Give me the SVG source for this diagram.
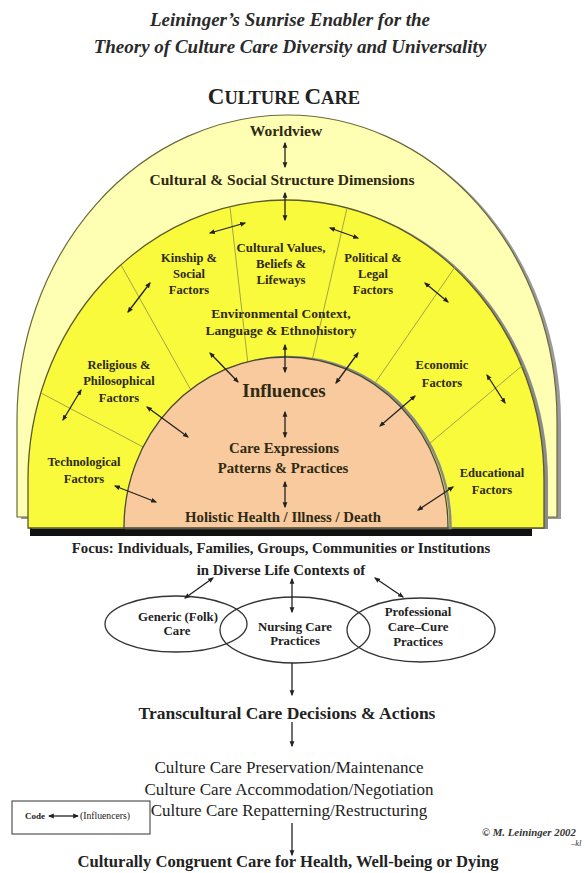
<svg xmlns="http://www.w3.org/2000/svg" width="585" height="873" viewBox="0 0 585 873" font-family="'Liberation Serif', 'Times New Roman', Tinos, 'DejaVu Serif', serif">
<style>
  svg text { font-family: 'Liberation Serif', 'Times New Roman', Tinos, 'DejaVu Serif', serif; }
  .ttl { font-weight: bold; font-style: italic; font-size: 19px; fill: #2a2a2a; text-anchor: middle; }
  .cc { font-weight: bold; fill: #222; text-anchor: middle; }
  .arch { font-weight: bold; fill: #2e2a14; text-anchor: middle; }
  .f15 { font-size: 15.5px; }
  .fac { font-size: 12.5px; }
  .env { font-size: 13.5px; }
  .mid { font-size: 14.8px; }
  .bl { font-weight: bold; fill: #222; text-anchor: middle; }
  .rg { fill: #222; text-anchor: middle; font-size: 17px; }
  .ell { fill: none; stroke: #333; stroke-width: 1.3; }
  .div { stroke: #a3a348; stroke-width: 1; fill: none; }
  .arr { stroke: #222; stroke-width: 1.3; fill: none; marker-start: url(#ah); marker-end: url(#ah); }
  .one { stroke: #222; stroke-width: 1.3; fill: none; marker-end: url(#ah); }
</style>
<defs>
  <marker id="ah" viewBox="0 0 10 10" refX="8" refY="5" markerWidth="6" markerHeight="6" markerUnits="userSpaceOnUse" orient="auto-start-reverse">
    <path d="M0,1 L10,5 L0,9 z" fill="#222"/>
  </marker>
</defs>
<rect width="585" height="873" fill="#ffffff"/>

<g id="title">
  <text class="ttl" x="290" y="26">Leininger’s Sunrise Enabler for the</text>
  <text class="ttl" x="290" y="53">Theory of Culture Care Diversity and Universality</text>
</g>
<g id="culture-care-heading">
  <text class="cc" x="284" y="104"><tspan font-size="23">C</tspan><tspan font-size="18.5">ULTURE </tspan><tspan font-size="23">C</tspan><tspan font-size="18.5">ARE</tspan></text>
</g>

<g id="arches">
  <path d="M17,517 L17,420 A270,305 0 0 1 557,420 L557,517 Z" fill="#9a9a9a" transform="translate(4,2)"/>
  <path d="M17,517 L17,420 A270,305 0 0 1 557,420 L557,517 Z" fill="#FFFFB3" stroke="#6a6a3a" stroke-width="1.2"/>
  <rect x="30" y="528" width="502" height="8" fill="#111"/>
  <path d="M28,528 L28,480 A258,280 0 0 1 544,480 L544,528 Z" fill="#8a8a8a" transform="translate(4,1)"/>
  <path d="M28,528 L28,480 A258,280 0 0 1 544,480 L544,528 Z" fill="#FAFA3C" stroke="#5a5a2a" stroke-width="1.3"/>
  <g id="dividers">
    <line class="div" x1="41" y1="393" x2="145" y2="448"/>
    <line class="div" x1="121" y1="265" x2="192" y2="392"/>
    <line class="div" x1="230" y1="207" x2="248" y2="364"/>
    <line class="div" x1="347" y1="208" x2="312" y2="361"/>
    <line class="div" x1="455" y1="267" x2="373" y2="386"/>
    <line class="div" x1="523" y1="365" x2="423" y2="449"/>
  </g>
  <path d="M124,528 L124,527 A162,170 0 0 1 448,527 L448,528 Z" fill="none" stroke="#8a8a8a" stroke-width="2.5" transform="translate(2.5,0)"/>
  <path d="M124,528 L124,527 A162,170 0 0 1 448,527 L448,528 Z" fill="#F9CA9E" stroke="#4a4a30" stroke-width="1.3"/>
</g>

<g id="worldview"><text class="arch f15" x="286" y="136">Worldview</text></g>
<g id="cultural-social"><text class="arch f15" x="282" y="185">Cultural &amp; Social Structure Dimensions</text></g>
<g id="cultural-values">
  <text class="arch" font-size="12.8" x="281" y="252">Cultural Values,</text>
  <text class="arch" font-size="12.8" x="281" y="268">Beliefs &amp;</text>
  <text class="arch" font-size="12.8" x="281" y="284">Lifeways</text>
</g>
<g id="kinship">
  <text class="arch fac" x="189" y="262">Kinship &amp;</text>
  <text class="arch fac" x="189" y="278">Social</text>
  <text class="arch fac" x="189" y="294">Factors</text>
</g>
<g id="political">
  <text class="arch fac" x="373" y="262">Political &amp;</text>
  <text class="arch fac" x="373" y="278">Legal</text>
  <text class="arch fac" x="373" y="294">Factors</text>
</g>
<g id="environmental">
  <text class="arch env" x="281" y="318">Environmental Context,</text>
  <text class="arch env" x="281" y="335">Language &amp; Ethnohistory</text>
</g>
<g id="religious">
  <text class="arch fac" x="119" y="369">Religious &amp;</text>
  <text class="arch fac" x="119" y="385">Philosophical</text>
  <text class="arch fac" x="119" y="402">Factors</text>
</g>
<g id="economic">
  <text class="arch fac" x="442" y="369">Economic</text>
  <text class="arch fac" x="442" y="387">Factors</text>
</g>
<g id="technological">
  <text class="arch fac" x="84" y="466">Technological</text>
  <text class="arch fac" x="84" y="483">Factors</text>
</g>
<g id="educational">
  <text class="arch fac" x="492" y="477">Educational</text>
  <text class="arch fac" x="492" y="494">Factors</text>
</g>
<g id="influences"><text class="arch" font-size="19" x="284" y="397">Influences</text></g>
<g id="care-expressions">
  <text class="arch mid" x="284" y="453">Care Expressions</text>
  <text class="arch mid" x="283" y="473">Patterns &amp; Practices</text>
</g>
<g id="holistic"><text class="arch mid" x="283" y="522">Holistic Health / Illness / Death</text></g>

<g id="focus">
  <text class="bl" font-size="14.8" x="281" y="553">Focus:  Individuals, Families, Groups, Communities or Institutions</text>
  <text class="bl" font-size="14.8" x="281" y="575">in Diverse Life Contexts of</text>
</g>

<g id="generic">
  <ellipse class="ell" cx="176" cy="624" rx="71" ry="28"/>
  <text class="bl" font-size="12.8" x="178" y="621">Generic (Folk)</text>
  <text class="bl" font-size="12.8" x="177" y="635">Care</text>
</g>
<g id="nursing">
  <ellipse class="ell" cx="295" cy="630" rx="75" ry="33"/>
  <text class="bl" font-size="12.8" x="295" y="631">Nursing Care</text>
  <text class="bl" font-size="12.8" x="295" y="645">Practices</text>
</g>
<g id="professional">
  <ellipse class="ell" cx="421" cy="630" rx="74" ry="32"/>
  <text class="bl" font-size="12.8" x="418" y="616">Professional</text>
  <text class="bl" font-size="12.8" x="418" y="631">Care–Cure</text>
  <text class="bl" font-size="12.8" x="418" y="646">Practices</text>
</g>

<g id="transcultural"><text class="bl" font-size="17.5" x="287" y="719">Transcultural Care Decisions &amp; Actions</text></g>
<g id="modes">
  <text class="rg" x="289" y="773">Culture Care Preservation/Maintenance</text>
  <text class="rg" x="289" y="795">Culture Care Accommodation/Negotiation</text>
  <text class="rg" x="289" y="816">Culture Care Repatterning/Restructuring</text>
</g>
<g id="outcome"><text class="bl" font-size="16.6" x="288" y="867">Culturally Congruent Care for Health, Well-being or Dying</text></g>

<g id="code-box">
  <rect x="12" y="801" width="138" height="33" fill="#fff" stroke="#333" stroke-width="1"/>
  <text x="25" y="819" font-size="9" font-weight="bold" fill="#222">Code</text>
  <line class="arr" x1="49" y1="816" x2="78" y2="816"/>
  <text x="80" y="819" font-size="9.7" fill="#222">(Influencers)</text>
</g>
<g id="copyright">
  <text x="482" y="836" font-size="10.8" font-style="italic" font-weight="bold" fill="#333">© M. Leininger 2002</text>
  <text x="571" y="846" font-size="8.5" font-style="italic" fill="#333">–kl</text>
</g>

<g id="connectors">
  <line class="arr" x1="285" y1="143" x2="285" y2="167"/>
  <line class="arr" x1="285" y1="193" x2="285" y2="220"/>
  <line class="arr" x1="210" y1="233" x2="245" y2="223"/>
  <line class="arr" x1="330" y1="228" x2="358" y2="238"/>
  <line class="arr" x1="128" y1="312" x2="150" y2="283"/>
  <line class="arr" x1="425" y1="283" x2="448" y2="302"/>
  <line class="arr" x1="63" y1="420" x2="81" y2="390"/>
  <line class="arr" x1="487" y1="375" x2="505" y2="403"/>
  <line class="arr" x1="285" y1="345" x2="285" y2="372"/>
  <line class="arr" x1="210" y1="353" x2="238" y2="382"/>
  <line class="arr" x1="358" y1="353" x2="336" y2="383"/>
  <line class="arr" x1="285" y1="412" x2="285" y2="437"/>
  <line class="arr" x1="147" y1="407" x2="188" y2="437"/>
  <line class="arr" x1="415" y1="396" x2="380" y2="426"/>
  <line class="arr" x1="285" y1="482" x2="285" y2="507"/>
  <line class="arr" x1="115" y1="486" x2="156" y2="502"/>
  <line class="arr" x1="453" y1="487" x2="418" y2="510"/>
  <line class="arr" x1="213" y1="578" x2="185" y2="598"/>
  <line class="arr" x1="292" y1="579" x2="292" y2="612"/>
  <line class="arr" x1="375" y1="578" x2="403" y2="597"/>
  <line class="one" x1="292" y1="663" x2="292" y2="695"/>
  <line class="one" x1="292" y1="722" x2="292" y2="746"/>
  <line class="one" x1="292" y1="823" x2="292" y2="855"/>
</g>
</svg>
